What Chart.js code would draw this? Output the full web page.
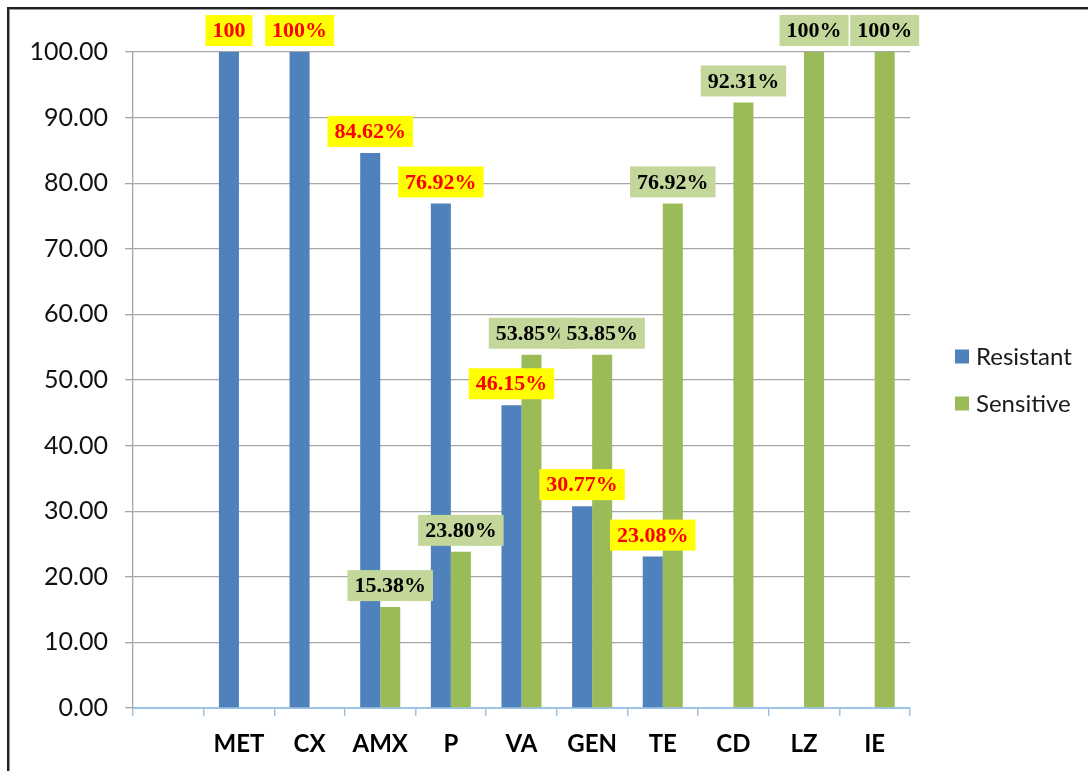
<!DOCTYPE html>
<html lang="en">
<head>
  <meta charset="UTF-8">
  <title>Resistant / Sensitive</title>
  <script src="https://cdn.jsdelivr.net/npm/chart.js"></script>
  <style>
    body {
      margin: 0;
      background: #fff;
    }
    .wrap {
      position: relative;
      width: 1088px;
      height: 771px;
      overflow: hidden;
    }
    .frame {
      position: absolute;
      left: 7px;
      top: 7px;
      width: 1200px;
      height: 900px;
      border-left: 2px solid #222;
      border-top: 2px solid #222;
      box-shadow: inset 1px 1px 0 #999;
      pointer-events: none;
    }
    canvas {
      position: absolute;
      left: 0;
      top: 0;
    }
  </style>
</head>
<body>
  <div class="wrap">
    <canvas id="chart" width="1088" height="771"></canvas>
    <div class="frame"></div>
  </div>

  <script>
    const categories = ['', 'MET', 'CX', 'AMX', 'P', 'VA', 'GEN', 'TE', 'CD', 'LZ', 'IE'];
    const resistant = [null, 100, 100, 84.62, 76.92, 46.15, 30.77, 23.08, 0, 0, 0];
    const sensitive = [null, 0, 0, 15.38, 23.80, 53.85, 53.85, 76.92, 92.31, 100, 100];
    const resistantText = ['', '100', '100%', '84.62%', '76.92%', '46.15%', '30.77%', '23.08%', '', '', ''];
    const sensitiveText = ['', '', '', '15.38%', '23.80%', '53.85%', '53.85%', '76.92%', '92.31%', '100%', '100%'];
    const yTicks = [0, 10, 20, 30, 40, 50, 60, 70, 80, 90, 100];

    // boxed value labels over the bars
    const boxLabels = {
      id: 'boxLabels',
      afterDatasetsDraw(chart) {
        const ctx = chart.ctx;
        const styles = [
          { bg: '#ffff00', fg: '#ff0000', texts: resistantText },
          { bg: '#c4d79b', fg: '#000000', texts: sensitiveText }
        ];
        ctx.save();
        ctx.font = 'bold 22px "Liberation Serif", "Times New Roman", serif';
        ctx.textAlign = 'center';
        ctx.textBaseline = 'middle';
        styles.forEach((s, di) => {
          const meta = chart.getDatasetMeta(di);
          meta.data.forEach((bar, i) => {
            const t = s.texts[i];
            if (!t) return;
            const w = ctx.measureText(t).width + 14;
            const h = 31;
            const bottom = bar.y - 6;
            ctx.fillStyle = s.bg;
            ctx.fillRect(bar.x - w / 2, bottom - h, w, h);
            ctx.fillStyle = s.fg;
            ctx.fillText(t, bar.x, bottom - h / 2 + 1);
          });
        });
        ctx.restore();
      }
    };

    // legend on the right
    const sideLegend = {
      id: 'sideLegend',
      afterDraw(chart) {
        const ctx = chart.ctx;
        const area = chart.chartArea;
        const x = area.right + 45;
        const mid = (area.top + area.bottom) / 2;
        ctx.save();
        ctx.font = '24px Lato, sans-serif';
        ctx.textBaseline = 'middle';
        chart.data.datasets.forEach((ds, i) => {
          const y = mid - 23.5 + i * 47;
          ctx.fillStyle = ds.backgroundColor;
          ctx.fillRect(x, y - 7, 14, 14);
          ctx.fillStyle = '#1a1a1a';
          ctx.fillText(ds.label, x + 21, y + 1);
        });
        ctx.restore();
      }
    };

    new Chart(document.getElementById('chart'), {
      type: 'bar',
      data: {
        labels: categories,
        datasets: [
          {
            label: 'Resistant',
            data: resistant,
            backgroundColor: '#4f81bd',
            categoryPercentage: 0.567,
            barPercentage: 1
          },
          {
            label: 'Sensitive',
            data: sensitive,
            backgroundColor: '#9bbb59',
            categoryPercentage: 0.567,
            barPercentage: 1
          }
        ]
      },
      options: {
        responsive: false,
        animation: false,
        layout: { padding: { top: 52, right: 178, left: 0, bottom: 0 } },
        plugins: {
          legend: { display: false },
          tooltip: { enabled: false }
        },
        scales: {
          x: {
            offset: true,
            grid: {
              offset: true,
              drawOnChartArea: false,
              color: '#9dc3e6',
              tickLength: 8,
              lineWidth: 1.5
            },
            border: { color: '#9dc3e6', width: 2 },
            ticks: {
              color: '#000',
              padding: 14,
              font: { family: 'Lato', size: 24, weight: 'bold' }
            },
            afterFit(scale) { scale.height = 63; }
          },
          y: {
            min: 0,
            max: 100,
            afterBuildTicks(scale) {
              scale.ticks = yTicks.map(v => ({ value: v }));
            },
            grid: {
              color: '#a6a6a6',
              tickLength: 8,
              lineWidth: 1.3
            },
            border: { color: '#a6a6a6', width: 1.3 },
            ticks: {
              color: '#111',
              padding: 17,
              font: { family: 'Lato', size: 25 },
              callback: v => Number(v).toFixed(2)
            },
            afterFit(scale) { scale.width = 133; }
          }
        }
      },
      plugins: [boxLabels, sideLegend]
    });
  </script>
</body>
</html>
